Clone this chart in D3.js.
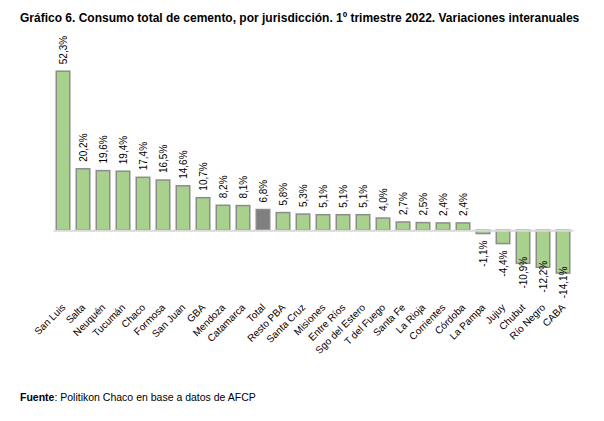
<!DOCTYPE html>
<html>
  <head>
  <title>Consumo de cemento</title>
  <style>
    body, html {
      margin: 0;
      padding: 0;
      background: #fff;
    }
    #svg {
      display: block;
      font-family: "Liberation Sans", Arial, sans-serif;
    }
  </style>
  </head>
  <body>

  <svg id="svg" width="604" height="421"></svg>

  <script src="https://cdnjs.cloudflare.com/ajax/libs/d3/7.8.5/d3.min.js"></script>
  <script>
    const categories = ['San Luis', 'Salta', 'Neuquén', 'Tucumán', 'Chaco', 'Formosa', 'San Juan', 'GBA',
      'Mendoza', 'Catamarca', 'Total', 'Resto PBA', 'Santa Cruz', 'Misiones', 'Entre Ríos',
      'Sgo del Estero', 'T del Fuego', 'Santa Fe', 'La Rioja', 'Corrientes', 'Córdoba',
      'La Pampa', 'Jujuy', 'Chubut', 'Río Negro', 'CABA']
    const values = [52.3, 20.2, 19.6, 19.4, 17.4, 16.5, 14.6, 10.7, 8.2, 8.1, 6.8, 5.8, 5.3, 5.1, 5.1,
      5.1, 4.0, 2.7, 2.5, 2.4, 2.4, -1.1, -4.4, -10.9, -12.2, -14.1]
    const highlight = 'Total'

    const data = categories.map((c, i) => ({ label: c, value: values[i] }))
    const fmt = v => v.toFixed(1).replace('.', ',') + '%'

    const svg = d3.select('#svg')

    const xscale = d3.scaleBand()
      .domain(categories)
      .range([53, 573])
      .paddingInner(0.325)
      .paddingOuter(0.1625)

    const yscale = d3.scaleLinear()
      .domain([-20, 55])
      .range([291, 63])

    // title
    svg.append('text')
      .attr('x', 20)
      .attr('y', 22)
      .attr('font-size', 12)
      .attr('font-weight', 'bold')
      .text('Gráfico 6. Consumo total de cemento, por jurisdicción. 1º trimestre 2022. Variaciones interanuales')

    // bars
    svg.append('g')
      .selectAll('rect')
      .data(data)
      .enter()
      .append('rect')
      .attr('x', d => xscale(d.label))
      .attr('y', d => yscale(Math.max(0, d.value)))
      .attr('width', xscale.bandwidth())
      .attr('height', d => Math.abs(yscale(d.value) - yscale(0)))
      .attr('fill', d => d.label === highlight ? '#7f7f7f' : '#a9d18e')
      .attr('stroke', '#8c8c8c')
      .attr('stroke-width', 1.5)

    // zero line
    const bottomAxis = d3.axisBottom(xscale).tickSize(0).tickFormat('')
    svg.append('g')
      .attr('transform', `translate(0, ${yscale(0)})`)
      .call(bottomAxis)
      .call(g => g.select('.domain').attr('stroke', '#d9d9d9').attr('stroke-width', 2))

    // value labels
    svg.append('g')
      .selectAll('text')
      .data(data)
      .enter()
      .append('text')
      .attr('font-size', 10)
      .attr('fill', '#000')
      .attr('text-anchor', d => d.value >= 0 ? 'start' : 'end')
      .attr('dy', '0.35em')
      .attr('transform', d => {
        const cx = xscale(d.label) + xscale.bandwidth() / 2
        let y
        if (d.value >= 0) y = yscale(d.value) - 7
        else y = yscale(d.value) + (d.value < -10 ? -6.5 : 7)
        return `translate(${cx}, ${y}) rotate(-90)`
      })
      .text(d => fmt(d.value))

    // category labels
    svg.append('g')
      .selectAll('text')
      .data(data)
      .enter()
      .append('text')
      .attr('font-size', 10)
      .attr('fill', '#000')
      .attr('text-anchor', 'end')
      .attr('transform', d => `translate(${xscale(d.label) + xscale.bandwidth() / 2 + 3}, 308) rotate(-45)`)
      .text(d => d.label)

    // source
    const src = svg.append('text')
      .attr('x', 20)
      .attr('y', 401)
      .attr('font-size', 10.5)
    src.append('tspan').attr('font-weight', 'bold').text('Fuente')
    src.append('tspan').text(': Politikon Chaco en base a datos de AFCP')
  </script>
  </body>
</html>
